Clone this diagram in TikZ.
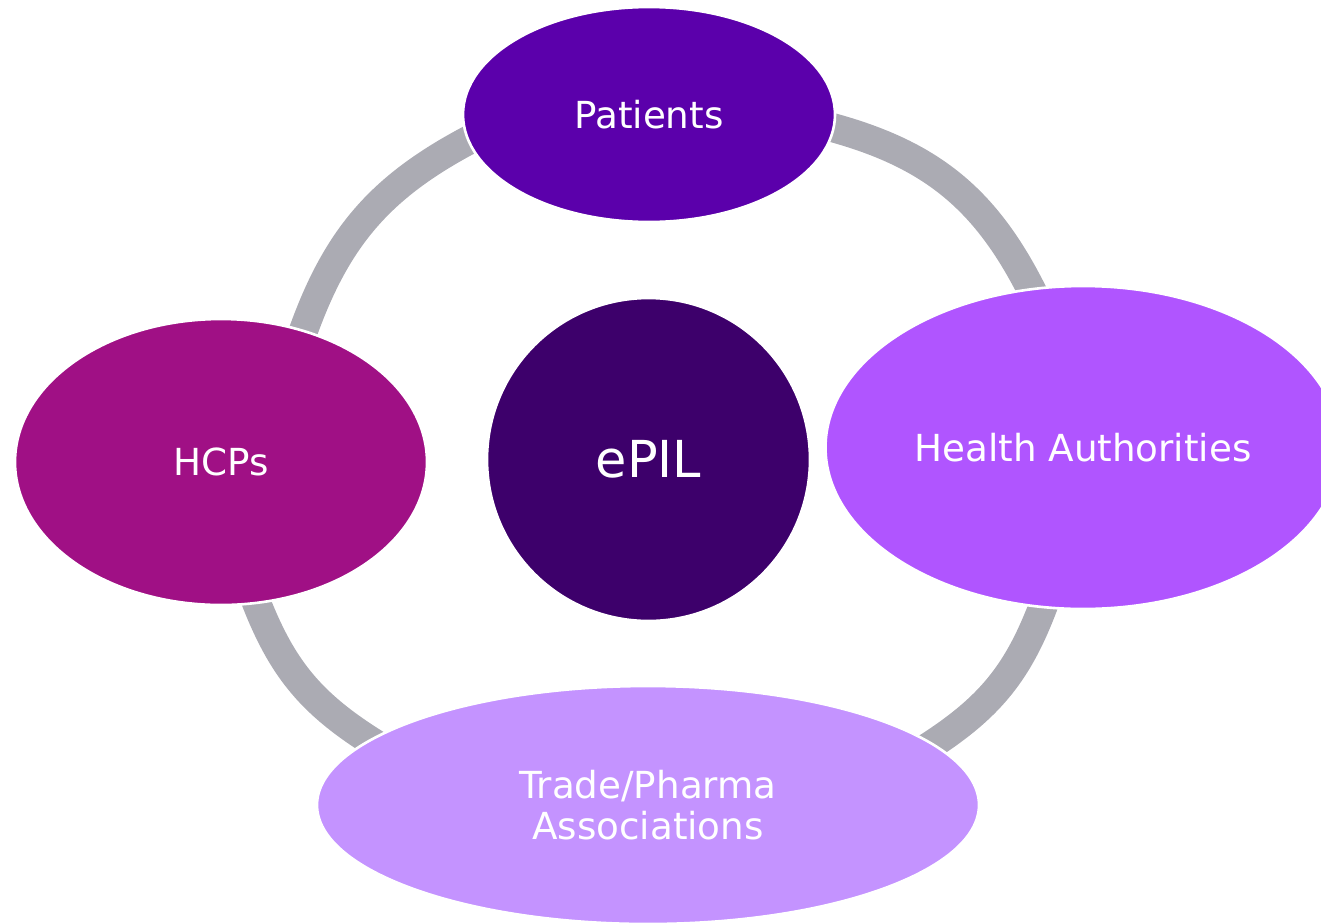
\documentclass[tikz,border=0pt]{standalone}
\usepackage{fontspec}
\setmainfont{DejaVu Sans}
\usepackage{tikz}
\usetikzlibrary{shapes.geometric,backgrounds}

\definecolor{patcol}{HTML}{5B00AB}
\definecolor{hubcol}{HTML}{3D006B}
\definecolor{hcpcol}{HTML}{A01085}
\definecolor{authcol}{HTML}{B055FF}
\definecolor{tradecol}{HTML}{C493FF}
\definecolor{ringcol}{HTML}{ABABB3}

\begin{document}
\begin{tikzpicture}[every node/.style={ellipse, draw=white, line width=1.5pt, inner sep=0pt, outer sep=0pt, text=white, align=center, font=\fontsize{21.2}{23}\selectfont},
    link/.style={draw=ringcol, line width=16.5pt, shorten <=-14pt, shorten >=-14pt}]
    \useasboundingbox (0,0) rectangle (26.42,-18.44);
    \node (epil) [circle, fill=hubcol, minimum size=6.46cm, font=\fontsize{29}{32}\selectfont] at (12.97,-9.19) {ePIL};
    \node (pat) [fill=patcol, minimum width=7.44cm, minimum height=4.3cm] at (12.98,-2.29) {Patients};
    \node (auth) [fill=authcol, minimum width=10.3cm, minimum height=6.46cm] at (21.66,-8.95) {Health Authorities};
    \node (trade) [fill=tradecol, minimum width=13.24cm, minimum height=4.76cm] at (12.96,-16.1) {Trade/Pharma\\Associations};
    \node (hcp) [fill=hcpcol, minimum width=8.24cm, minimum height=5.72cm] at (4.42,-9.24) {HCPs};

    \begin{scope}[on background layer]
        \draw[link] (pat.-4) to[bend left=26] (auth.108);
        \draw[link] (auth.-104) to[bend left=20] (trade.12);
        \draw[link] (trade.167) to[bend left=20] (hcp.-76);
        \draw[link] (hcp.58) to[bend left=23] (pat.188);
    \end{scope}
\end{tikzpicture}
\end{document}
